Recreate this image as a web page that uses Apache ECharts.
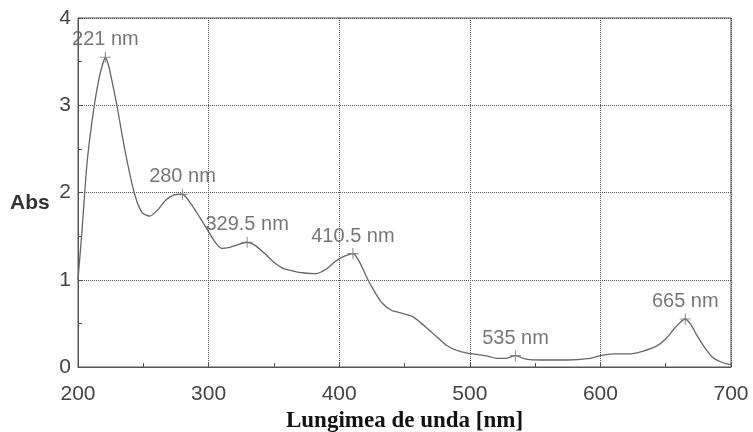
<!DOCTYPE html>
<html>
<head>
<meta charset="utf-8">
<script src="https://cdn.jsdelivr.net/npm/echarts@6/dist/echarts.min.js"></script>
<style>
  html, body { margin: 0; padding: 0; background: #fff; }
  #chart { width: 753px; height: 432px; }
</style>
</head>
<body>
<div id="chart"></div>
<script>
// wavelength (nm) and absorbance
const wavelengths = [200, 203, 207, 212, 216, 218.5, 221, 223.5, 226, 230, 236, 243, 249, 255, 261, 267, 273, 280,
    286, 293, 300, 305, 310, 316, 322, 329.5, 335, 343, 350, 357, 365, 372, 382, 390, 397, 404, 410.5,
    415, 422, 428, 433, 440, 447, 456, 463, 469, 476, 482, 490, 498, 507, 515, 520, 528, 535, 541, 546,
    560, 575, 590, 600, 610, 622, 632, 643, 650, 656, 661, 665, 669, 674, 680, 686, 692, 697, 700];
const absorbance = [1.0, 1.55, 2.35, 2.95, 3.3, 3.45, 3.55, 3.45, 3.28, 2.98, 2.48, 2.0, 1.77, 1.73, 1.8, 1.91, 1.97, 1.98,
    1.88, 1.72, 1.55, 1.43, 1.36, 1.37, 1.40, 1.43, 1.40, 1.30, 1.20, 1.13, 1.10, 1.08, 1.07, 1.12, 1.21, 1.27, 1.30,
    1.22, 1.0, 0.84, 0.73, 0.65, 0.62, 0.58, 0.5, 0.42, 0.33, 0.25, 0.19, 0.16, 0.14, 0.12, 0.10, 0.10, 0.13, 0.10, 0.085,
    0.08, 0.08, 0.095, 0.13, 0.15, 0.15, 0.18, 0.24, 0.32, 0.43, 0.51, 0.55, 0.49, 0.36, 0.22, 0.11, 0.06, 0.035, 0.03];

// labelled peaks
const peakNm = [221, 280, 329.5, 410.5, 535, 665];
const peakAbs = [3.55, 1.98, 1.43, 1.30, 0.13, 0.55];

const chart = echarts.init(document.getElementById('chart'));

const option = {
    backgroundColor: '#fff',
    animation: false,
    grid: {
        left: 78, right: 22, top: 18, bottom: 65,
        outerBoundsMode: 'none',
        show: true, borderColor: '#555', borderWidth: 1
    },
    xAxis: {
        type: 'value',
        min: 200, max: 700, interval: 100,
        name: 'Lungimea de unda [nm]',
        nameLocation: 'middle',
        nameGap: 35,
        nameTextStyle: { fontFamily: 'Liberation Serif', fontWeight: 'bold', fontSize: 23, color: '#111' },
        axisLine: { lineStyle: { color: '#555' } },
        axisTick: { inside: true, length: 4, lineStyle: { color: '#555' } },
        minorTick: { show: true, splitNumber: 2, length: 4, lineStyle: { color: '#555' } },
        axisLabel: { fontFamily: 'Liberation Sans', fontSize: 21, color: '#444', margin: 17 },
        splitLine: { show: true, lineStyle: { type: 'dotted', color: '#555', width: 1 } }
    },
    yAxis: {
        type: 'value',
        min: 0, max: 4, interval: 1,
        axisLine: { show: true, lineStyle: { color: '#555' } },
        axisTick: { show: true, inside: true, length: 4, lineStyle: { color: '#555' } },
        minorTick: { show: true, splitNumber: 2, length: 4, lineStyle: { color: '#555' } },
        axisLabel: { fontFamily: 'Liberation Sans', fontSize: 21, color: '#444', margin: 7 },
        splitLine: { show: true, lineStyle: { type: 'dotted', color: '#555', width: 1 } }
    },
    graphic: [
        {
            type: 'text', left: 10, top: 193,
            style: { text: 'Abs', font: 'bold 21px "Liberation Sans"', fill: '#333' }
        }
    ],
    series: [
        {
            type: 'line',
            data: wavelengths.map((w, i) => [w, absorbance[i]]),
            smooth: 0.25,
            showSymbol: false,
            lineStyle: { color: '#666', width: 1.3 },
            z: 3
        },
        {
            type: 'scatter',
            data: peakNm.map((w, i) => [w, peakAbs[i]]),
            symbol: 'path://M4.5,0h1v4.5h4.5v1h-4.5v4.5h-1v-4.5h-4.5v-1h4.5z',
            symbolSize: 11,
            itemStyle: { color: '#777' },
            label: {
                show: true,
                position: 'top',
                distance: 2,
                formatter: p => p.value[0] + ' nm',
                fontFamily: 'Liberation Sans',
                fontSize: 20,
                color: '#555'
            },
            z: 4
        }
    ]
};

chart.setOption(option);

window.addEventListener('resize', function () {
    chart.resize();
});
</script>
</body>
</html>
